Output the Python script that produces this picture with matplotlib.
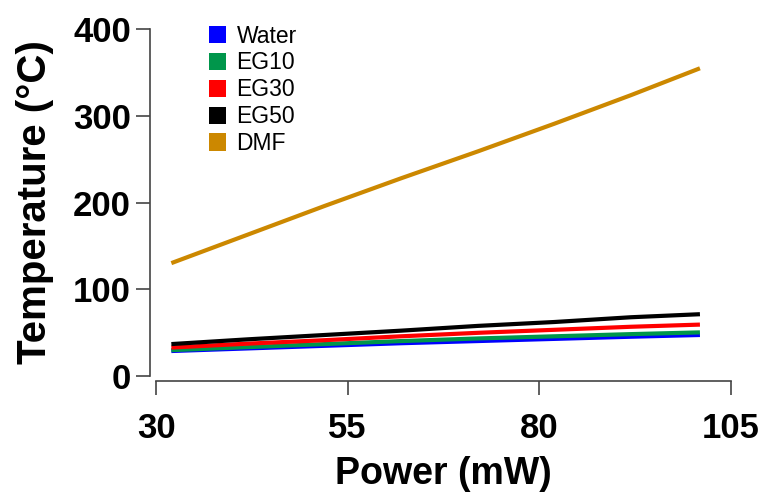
import matplotlib
matplotlib.use('Agg')
import matplotlib.pyplot as plt
from matplotlib.patches import Patch

# power (mW) and temperature (deg C)
power = [32, 42, 52, 62, 72, 82, 92, 101]
water = [28.5, 31.5, 34.5, 37.5, 40, 42.5, 45, 47]
eg10 = [29.5, 33, 36.5, 40, 43, 45.5, 48, 50]
eg30 = [32.5, 37, 41, 45.5, 49.5, 53, 56.5, 59]
eg50 = [36.5, 42, 47, 52, 57.5, 62, 67.5, 71]
dmf = [130, 163, 196, 228, 259, 291, 324, 355]

labels = ['Water', 'EG10', 'EG30', 'EG50', 'DMF']
colors = ['#0000ff', '#00964b', '#ff0000', '#000000', '#cc8800']
series = [water, eg10, eg30, eg50, dmf]

plt.rcParams['font.family'] = ['Liberation Sans', 'DejaVu Sans']

fig = plt.figure(figsize=(7.63, 4.92), dpi=100)
ax = fig.add_axes([0.2045, 0.2364, 0.753, 0.704])

for vals, c in zip(series, colors):
    ax.plot(power, vals, color=c, lw=3, solid_capstyle='butt')

ax.set_xlim(30, 105)
ax.set_ylim(0, 400)
ax.set_xticks([30, 55, 80, 105])
ax.set_yticks([0, 100, 200, 300, 400])

for side in ['top', 'right']:
    ax.spines[side].set_visible(False)
for side in ['left', 'bottom']:
    ax.spines[side].set_position(('outward', 4))
    ax.spines[side].set_color('#444444')
    ax.spines[side].set_linewidth(1.2)

ax.tick_params(axis='both', direction='out', length=10, width=1.2, color='#444444')
ax.tick_params(axis='x', pad=12)
ax.tick_params(axis='y', pad=4)
for lbl in ax.get_xticklabels() + ax.get_yticklabels():
    lbl.set_fontsize(25)
    lbl.set_fontweight('bold')

ax.set_xlabel('Power (mW)', fontsize=27, fontweight='bold', labelpad=8)
ax.set_ylabel('Temperature (\u00b0C)', fontsize=29, fontweight='bold', labelpad=14)

handles = [Patch(facecolor=c, edgecolor='none') for c in colors]
fig.legend(handles, labels, loc='upper left', bbox_to_anchor=(0.274, 0.950),
           frameon=False, fontsize=16.5, borderpad=0, borderaxespad=0,
           handlelength=0.75, handleheight=0.8, handletextpad=0.45,
           labelspacing=0.17)

plt.savefig('out.png', dpi=100)
